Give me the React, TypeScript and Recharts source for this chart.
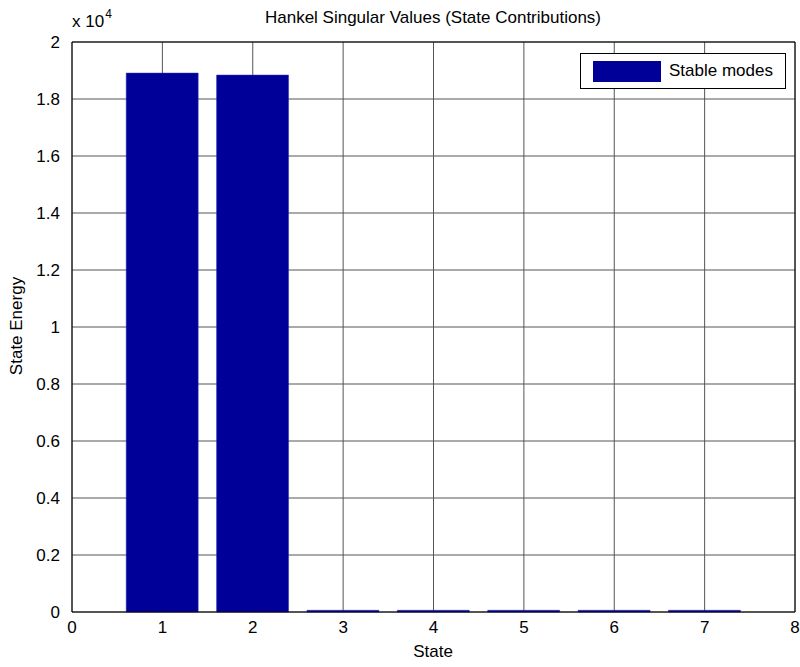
import { BarChart, Bar, XAxis, YAxis, CartesianGrid, ReferenceLine } from 'recharts';

const states = [1, 2, 3, 4, 5, 6, 7];
const energy = [18910, 18840, 60, 60, 60, 60, 60];
const xTicks = [0, 1, 2, 3, 4, 5, 6, 7, 8];
const yTicks = [0, 2000, 4000, 6000, 8000, 10000, 12000, 14000, 16000, 18000, 20000];

const data = states.map((s, i) => ({ state: s, energy: energy[i] }));

const font = '"Liberation Sans", Arial, sans-serif';

export default function App() {
  return (
    <div style={{ position: 'absolute', left: 0, top: 0, width: 800, height: 667, background: '#fff', fontFamily: font }}>
      <div style={{ position: 'absolute', left: 0, width: 866, top: 8, textAlign: 'center', fontSize: 17, lineHeight: '20px' }}>
        Hankel Singular Values (State Contributions)
      </div>
      <div style={{ position: 'absolute', left: 72, top: 12, fontSize: 17, lineHeight: '20px' }}>
        x 10<span style={{ fontSize: 12, position: 'relative', top: -9, marginLeft: 1 }}>4</span>
      </div>
      <div
        style={{
          position: 'absolute',
          left: 17,
          top: 326,
          fontSize: 17,
          transform: 'translate(-50%, -50%) rotate(-90deg)',
          whiteSpace: 'nowrap',
        }}
      >
        State Energy
      </div>
      <div style={{ position: 'absolute', left: 0, width: 866, top: 642, textAlign: 'center', fontSize: 17, lineHeight: '20px' }}>
        State
      </div>
      <BarChart
        width={800}
        height={667}
        data={data}
        margin={{ top: 42, right: 5, left: 0, bottom: 0 }}
        barSize={72}
      >
        <CartesianGrid stroke="#555" />
        <XAxis
          dataKey="state"
          type="number"
          domain={[0, 8]}
          ticks={xTicks}
          interval={0}
          height={55}
          axisLine={{ stroke: '#000' }}
          tickLine={false}
          tick={{ fill: '#000', fontSize: 17, fontFamily: font }}
          tickMargin={3}
        />
        <YAxis
          type="number"
          domain={[0, 20000]}
          ticks={yTicks}
          interval={0}
          width={72}
          axisLine={{ stroke: '#000' }}
          tickLine={false}
          tick={{ fill: '#000', fontSize: 17, fontFamily: font }}
          tickMargin={6}
          tickFormatter={(v: number) => String(Number((v / 10000).toFixed(1)))}
        />
        <ReferenceLine y={20000} stroke="#000" />
        <ReferenceLine x={8} stroke="#000" />
        <Bar dataKey="energy" name="Stable modes" fill="#000099" stroke="#3030c0" strokeWidth={0.5} isAnimationActive={false} />
      </BarChart>
      <div
        style={{
          position: 'absolute',
          left: 580,
          top: 53,
          width: 204,
          height: 34,
          border: '1px solid #000',
          background: '#fff',
          display: 'flex',
          alignItems: 'center',
          fontSize: 17,
          color: '#000',
        }}
      >
        <span style={{ display: 'inline-block', width: 68, height: 21, background: '#000099', marginLeft: 12, marginRight: 8 }} />
        Stable modes
      </div>
    </div>
  );
}
